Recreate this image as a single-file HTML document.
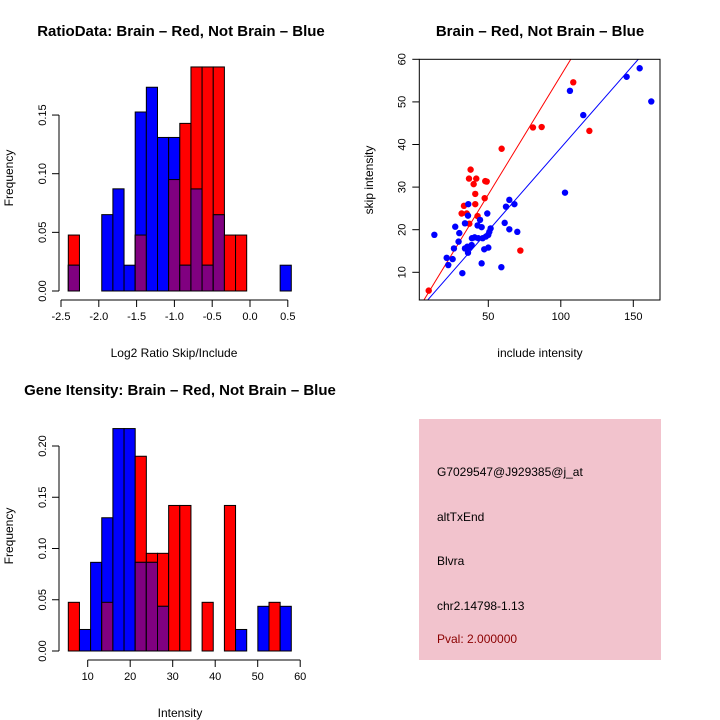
<!DOCTYPE html>
<html><head><meta charset="utf-8"><style>
body{margin:0;background:#fff}
svg{display:block;font-family:"Liberation Sans",sans-serif}
</style></head><body>
<svg id="s" width="720" height="720" viewBox="0 0 720 720">
<rect width="720" height="720" fill="#fff"/>
<text x="181" y="36" text-anchor="middle" font-size="15" font-weight="bold">RatioData: Brain – Red, Not Brain – Blue</text>
<text x="540" y="36" text-anchor="middle" font-size="15" font-weight="bold">Brain – Red, Not Brain – Blue</text>
<text x="180" y="395" text-anchor="middle" font-size="15" font-weight="bold">Gene Itensity: Brain – Red, Not Brain – Blue</text>
<text x="174" y="357" text-anchor="middle" font-size="12">Log2 Ratio Skip/Include</text>
<text transform="translate(13,178) rotate(-90)" text-anchor="middle" font-size="12">Frequency</text>
<text x="180" y="717" text-anchor="middle" font-size="12">Intensity</text>
<text transform="translate(13,536) rotate(-90)" text-anchor="middle" font-size="12">Frequency</text>
<text x="540" y="357" text-anchor="middle" font-size="12">include intensity</text>
<text transform="translate(373,180) rotate(-90)" text-anchor="middle" font-size="12">skip intensity</text>
<g>
<rect x="419" y="419" width="242" height="241" fill="#f2c3cd"/>
<text x="437" y="476" font-size="12">G7029547@J929385@j_at</text>
<text x="437" y="521" font-size="12">altTxEnd</text>
<text x="437" y="565" font-size="12">Blvra</text>
<text x="437" y="610" font-size="12">chr2.14798-1.13</text>
<text x="437" y="643" font-size="12" fill="#8b0000">Pval: 2.000000</text>
</g>
</svg>
<script>
const ratioRed=[0.0477,0,0,0,0,0,0.0477,0,0,0.095,0.1429,0.191,0.191,0.191,0.0477,0.0477,0,0,0,0];
const ratioBlue=[0.022,0,0,0.0651,0.0871,0.022,0.1526,0.1737,0.1309,0.1309,0.022,0.087,0.022,0.065,0,0,0,0,0,0.022];
const ratioTicksX=["-2.5","-2.0","-1.5","-1.0","-0.5","0.0","0.5"];
const ratioTicksY=["0.00","0.05","0.10","0.15"];
const intRed=[0.0475,0,0,0.0475,0,0,0.19,0.0953,0.0953,0.142,0.142,0,0.0475,0,0.142,0,0,0,0.0475,0];
const intBlue=[0,0.021,0.0865,0.130,0.217,0.217,0.0865,0.0865,0.0436,0,0,0,0,0,0,0.021,0,0.0436,0,0.0436];
const intTicksX=["10","20","30","40","50","60"];
const intTicksY=["0.00","0.05","0.10","0.15","0.20"];
const redX=[8.9,37.8,36.7,41.7,39.9,47.9,48.9,41.0,47.5,41.0,33.2,31.6,35.1,42.6,36.9,59.2,80.8,86.8,108.6,119.7,72.1];
const redY=[5.7,34.1,32.0,32.0,30.7,31.4,31.3,28.4,27.4,26.0,25.6,23.8,23.8,23.2,21.4,39.0,44.0,44.1,54.6,43.2,15.1];
const blueX=[12.8,21.3,22.4,25.4,26.3,27.2,30.0,29.5,32.1,33.9,36.0,36.2,33.9,35.5,36.0,37.4,38.5,38.7,40.6,42.6,44.3,45.4,43.1,46.1,48.4,50.0,50.7,51.6,49.3,47.2,50.0,45.4,59.0,61.3,62.2,64.5,64.5,68.0,70.0,102.9,106.3,115.5,145.4,154.4,162.4];
const blueY=[18.8,13.4,11.7,13.1,15.6,20.7,19.2,17.2,9.8,21.5,23.3,26.0,15.6,16.0,14.6,15.9,16.4,18.0,18.2,21.0,22.3,20.6,18.0,18.0,18.4,18.8,19.5,20.3,23.8,15.4,15.8,12.1,11.2,21.6,25.4,27.0,20.1,26.0,19.5,28.7,52.6,46.9,55.9,57.9,50.1];
const redFit=[0.37,0.558];
const blueFit=[0.31,0.389];
const scTicksX=["50","100","150"];
const scTicksY=["10","20","30","40","50","60"];

const S=document.getElementById('s');const NS='http://www.w3.org/2000/svg';
function mk(t,a,p){const e=document.createElementNS(NS,t);for(const k in a)e.setAttribute(k,a[k]);(p||S).appendChild(e);return e;}

function hist(red,blue,x0,bw,y0,ppu,ticksX,txPos,ticksY,tyStep,gname){
  const g=mk('g',{});
  
  
  const sy=v=>y0-v*ppu;
  for(let i=0;i<red.length;i++){
    const bx=x0+i*bw;
    const layers=[[red[i],'#ff0000','red'],[blue[i],'#0000ff','blue'],[Math.min(red[i],blue[i]),'#800080','overlap']];
    for(const [v,c,n] of layers){ if(v<=0)continue;
      const r=mk('rect',{x:bx,y:sy(v),width:bw,height:v*ppu,fill:c,stroke:'#000','stroke-width':1},g);
      
      
    }
  }
  const ymax=(ticksY.length-1)*tyStep;
  mk('line',{x1:59,y1:sy(0),x2:59,y2:sy(ymax),stroke:'#000'},g);
  ticksY.forEach((t,i)=>{const y=sy(i*tyStep);mk('line',{x1:52,y1:y,x2:59,y2:y,stroke:'#000'},g);
    const tx=mk('text',{transform:`translate(46,${y}) rotate(-90)`,'text-anchor':'middle','font-size':11},g);tx.textContent=t;
    
    });
  const ya=y0+9;
  mk('line',{x1:txPos[0],y1:ya,x2:txPos[txPos.length-1],y2:ya,stroke:'#000'},g);
  ticksX.forEach((t,i)=>{mk('line',{x1:txPos[i],y1:ya,x2:txPos[i],y2:ya+7,stroke:'#000'},g);
    const tx=mk('text',{x:txPos[i],y:ya+20,'text-anchor':'middle','font-size':11},g);tx.textContent=t;
    
    });
}
const rx=v=>61+(v+2.5)*75.6;
hist(ratioRed,ratioBlue,68.3,11.15,291,1173,ratioTicksX,ratioTicksX.map(t=>rx(parseFloat(t))),ratioTicksY,0.05,'ratio-histogram');
const ix=v=>87.7+(v-10)*4.25;
hist(intRed,intBlue,68.3,11.15,651,1025,intTicksX,intTicksX.map(t=>ix(parseFloat(t))),intTicksY,0.05,'intensity-histogram');

const L=419.3,R=660,T=59.3,B=300;
const sx=v=>415.8+v*1.45, sy=v=>272.3-(v-10)*4.26;
const sg=mk('g',{});


const cp=mk('clipPath',{id:'cp'},sg);
mk('rect',{x:L,y:T,width:R-L,height:B-T},cp);
[[redFit,'#ff0000','red-fit-line'],[blueFit,'#0000ff','blue-fit-line']].forEach(([f,c,n])=>{
  const l=mk('line',{x1:sx(0),y1:sy(f[0]),x2:sx(170),y2:sy(f[0]+f[1]*170),stroke:c,'stroke-width':1,'clip-path':'url(#cp)'},sg);
  
  
});
redX.forEach((v,i)=>{const c=mk('circle',{cx:sx(v),cy:sy(redY[i]),r:3.2,fill:'#ff0000'},sg);
  
  });
blueX.forEach((v,i)=>{const c=mk('circle',{cx:sx(v),cy:sy(blueY[i]),r:3.2,fill:'#0000ff'},sg);
  
  });
mk('rect',{x:L,y:T,width:R-L,height:B-T,fill:'none',stroke:'#000'},sg);
scTicksX.forEach(t=>{const x=sx(parseFloat(t));mk('line',{x1:x,y1:B,x2:x,y2:B+7,stroke:'#000'},sg);
  const tx=mk('text',{x:x,y:B+20,'text-anchor':'middle','font-size':11},sg);tx.textContent=t;
  
  });
scTicksY.forEach(t=>{const y=sy(parseFloat(t));mk('line',{x1:L-7,y1:y,x2:L,y2:y,stroke:'#000'},sg);
  const tx=mk('text',{transform:`translate(${L-14},${y}) rotate(-90)`,'text-anchor':'middle','font-size':11},sg);tx.textContent=t;
  
  });
</script>
</body></html>
